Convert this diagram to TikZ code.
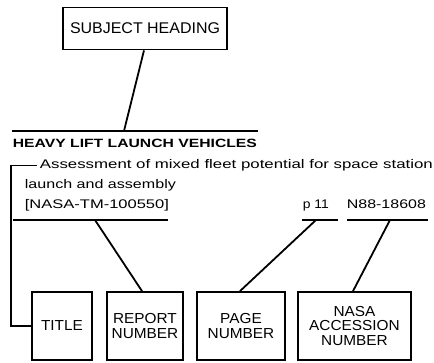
\documentclass[tikz,border=0pt]{standalone}
\usepackage{fontspec}
\usepackage{graphicx}
\setmainfont{Liberation Sans}
\newfontfamily\boxfont[FakeStretch=1.06]{Liberation Sans}
\newcommand{\fitw}[2]{\resizebox{#1}{\height}{#2}}
\begin{document}
\begin{tikzpicture}[x=1pt,y=-1pt,line width=1.8pt,
  box/.style={draw,line width=1.8pt,inner sep=0pt,align=center,
    font=\boxfont\fontsize{14.5}{14.7}\selectfont},
  body/.style={anchor=base west,inner sep=0pt,font=\fontsize{12.5}{15}\selectfont},
  head/.style={anchor=base west,inner sep=0pt,font=\bfseries\fontsize{12}{14}\selectfont},
  conn/.style={line width=1.8pt}]
\useasboundingbox (0,0) rectangle (434,363);
% boxes
\node[box,minimum width=164pt,minimum height=42pt,font=\fontsize{15.5}{16}\selectfont] (subj) at (145,28.5) {\fitw{150pt}{SUBJECT HEADING}};
\node[box,minimum width=60pt,minimum height=68pt] (title) at (62,326) {TITLE};
\node[box,minimum width=76pt,minimum height=68pt] (report) at (145,326) {REPORT\\NUMBER};
\node[box,minimum width=88pt,minimum height=68pt] (page) at (241,326) {PAGE\\NUMBER};
\node[box,minimum width=113pt,minimum height=68pt] (nasa) at (354.5,326) {NASA\\ACCESSION\\NUMBER};
% texts
\node[head] (hd) at (12,147.5) {\fitw{244pt}{HEAVY LIFT LAUNCH VEHICLES}};
\node[body] (abs1) at (39,169) {\fitw{393pt}{Assessment of mixed fleet potential for space station}};
\node[body] (abs2) at (24,189) {\fitw{151pt}{launch and assembly}};
\node[body] (rep) at (24,209) {\fitw{144pt}{[NASA-TM-100550]}};
\node[body] (pg) at (302,209) {\fitw{26pt}{p 11}};
\node[body] (acc) at (346,209) {\fitw{79pt}{N88-18608}};
% rule under subject line
\coordinate (r1) at (12,131);
\coordinate (r2) at (258,131);
\coordinate (rm) at (124,131);
\draw[conn] (r1) -- (r2);
\draw[conn] ([xshift=-1pt]subj.south) -- (rm);
% underlines
\coordinate (ua) at (13,220);
\coordinate (ub) at (168,220);
\coordinate (uc) at (95,220);
\coordinate (pa) at (302,220);
\coordinate (pb) at (338,220);
\coordinate (pc) at (316,220);
\coordinate (na) at (347,220);
\coordinate (nb) at (428,220);
\coordinate (nc) at (390,220);
\draw[conn] (ua) -- (ub);
\draw[conn] (pa) -- (pb);
\draw[conn] (na) -- (nb);
\draw[conn] (uc) -- ([xshift=-3pt]report.north);
\draw[conn] (pc) -- ([xshift=-1pt]page.north);
\draw[conn] (nc) -- ([xshift=-1.5pt]nasa.north);
% bracket
\coordinate (b0) at (37,165.5);
\coordinate (b1) at (11,165.5);
\draw[conn] (b0) -- (b1) |- (title.west);
\end{tikzpicture}
\end{document}
